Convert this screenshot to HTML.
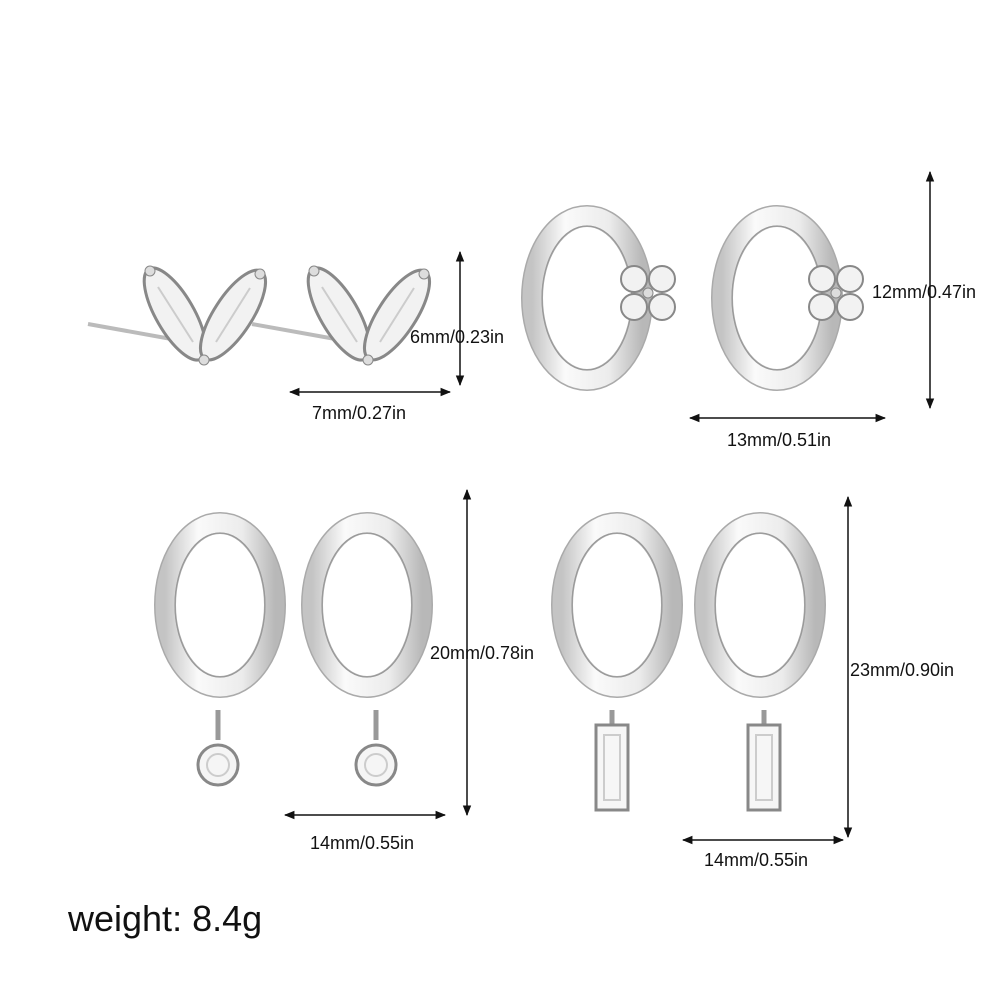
<!DOCTYPE html>
<html><head><meta charset="utf-8"><style>
html,body{margin:0;padding:0;background:#fff;}
svg{display:block}
text{font-family:"Liberation Sans",Arial,sans-serif;fill:#111;}
</style></head><body>
<svg width="1000" height="1000" viewBox="0 0 1000 1000" xmlns="http://www.w3.org/2000/svg">
<defs>
<marker id="a" viewBox="0 0 10 10" refX="9" refY="5" markerWidth="7" markerHeight="7" orient="auto-start-reverse">
<path d="M0,1 L10,5 L0,9 z" fill="#111"/></marker>
<linearGradient id="m" x1="0" x2="1" y1="0" y2="0">
<stop offset="0" stop-color="#c4c4c4"/><stop offset="0.3" stop-color="#fafafa"/><stop offset="0.7" stop-color="#ececec"/><stop offset="1" stop-color="#b8b8b8"/></linearGradient>
<g id="leaf">
<line x1="0" y1="62" x2="100" y2="80" stroke="#bbb" stroke-width="4"/>
<ellipse cx="87" cy="52" rx="52" ry="19" transform="rotate(60 87 52)" fill="#f2f2f2" stroke="#888" stroke-width="3"/>
<ellipse cx="145" cy="53" rx="52" ry="19" transform="rotate(123 145 53)" fill="#f2f2f2" stroke="#888" stroke-width="3"/>
<line x1="70" y1="25" x2="105" y2="80" stroke="#ccc" stroke-width="2"/>
<line x1="162" y1="26" x2="128" y2="80" stroke="#ccc" stroke-width="2"/>
<circle cx="62" cy="9" r="5" fill="#ddd" stroke="#888"/><circle cx="172" cy="12" r="5" fill="#ddd" stroke="#888"/>
<circle cx="116" cy="98" r="5" fill="#ddd" stroke="#888"/>
</g>
<g id="hoop">
<ellipse cx="0" cy="0" rx="55" ry="82" fill="none" stroke="#aaa" stroke-width="22"/>
<ellipse cx="0" cy="0" rx="55" ry="82" fill="none" stroke="url(#m)" stroke-width="19"/>
<ellipse cx="0" cy="0" rx="45" ry="72" fill="none" stroke="#999" stroke-width="1.2"/>
</g>
<g id="flower">
<circle cx="-14" cy="-14" r="13" fill="#f2f2f2" stroke="#888" stroke-width="2"/>
<circle cx="14" cy="-14" r="13" fill="#f2f2f2" stroke="#888" stroke-width="2"/>
<circle cx="-14" cy="14" r="13" fill="#f2f2f2" stroke="#888" stroke-width="2"/>
<circle cx="14" cy="14" r="13" fill="#f2f2f2" stroke="#888" stroke-width="2"/>
<circle cx="0" cy="0" r="5" fill="#ddd" stroke="#888"/>
</g>
<g id="round">
<line x1="0" y1="-55" x2="0" y2="-25" stroke="#999" stroke-width="5"/>
<circle cx="0" cy="0" r="20" fill="#f5f5f5" stroke="#888" stroke-width="3"/>
<circle cx="0" cy="0" r="11" fill="none" stroke="#ccc" stroke-width="2"/>
</g>
<g id="bag">
<line x1="0" y1="-60" x2="0" y2="-45" stroke="#999" stroke-width="5"/>
<rect x="-16" y="-45" width="32" height="85" fill="#f6f6f6" stroke="#888" stroke-width="3"/>
<rect x="-8" y="-35" width="16" height="65" fill="none" stroke="#ccc" stroke-width="2"/>
</g>
</defs>

<use href="#leaf" x="88" y="262"/>
<use href="#leaf" x="252" y="262"/>

<use href="#hoop" x="587" y="298"/>
<use href="#flower" x="648" y="293"/>
<use href="#hoop" x="777" y="298"/>
<use href="#flower" x="836" y="293"/>

<use href="#hoop" x="220" y="605"/>
<use href="#round" x="218" y="765"/>
<use href="#hoop" x="367" y="605"/>
<use href="#round" x="376" y="765"/>

<use href="#hoop" x="617" y="605"/>
<use href="#bag" x="612" y="770"/>
<use href="#hoop" x="760" y="605"/>
<use href="#bag" x="764" y="770"/>

<g stroke="#111" stroke-width="1.5" marker-start="url(#a)" marker-end="url(#a)">
<line x1="460" y1="252" x2="460" y2="385"/>
<line x1="290" y1="392" x2="450" y2="392"/>
<line x1="930" y1="172" x2="930" y2="408"/>
<line x1="690" y1="418" x2="885" y2="418"/>
<line x1="467" y1="490" x2="467" y2="815"/>
<line x1="285" y1="815" x2="445" y2="815"/>
<line x1="848" y1="497" x2="848" y2="837"/>
<line x1="683" y1="840" x2="843" y2="840"/>
</g>

<g font-size="18">
<text x="410" y="343">6mm/0.23in</text>
<text x="312" y="419">7mm/0.27in</text>
<text x="872" y="298">12mm/0.47in</text>
<text x="727" y="446">13mm/0.51in</text>
<text x="430" y="659">20mm/0.78in</text>
<text x="310" y="849">14mm/0.55in</text>
<text x="850" y="676">23mm/0.90in</text>
<text x="704" y="866">14mm/0.55in</text>
</g>
<text x="68" y="931" font-size="36">weight: 8.4g</text>
</svg>
</body></html>
